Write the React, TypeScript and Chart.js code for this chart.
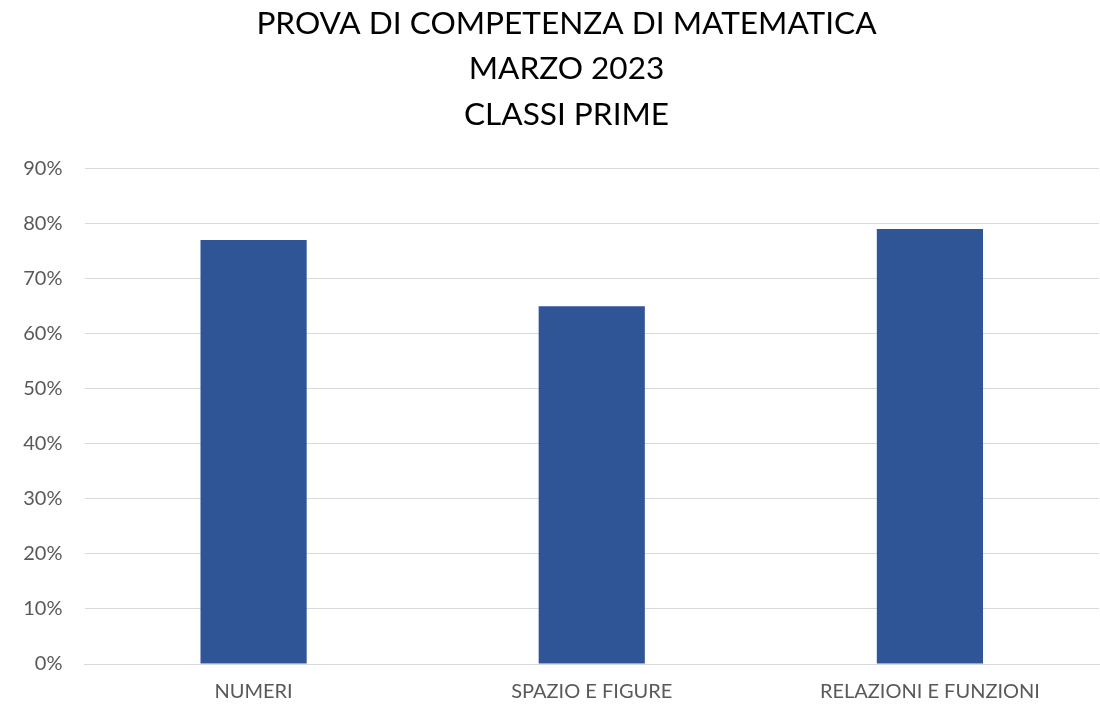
import React, { useEffect, useRef } from "react";
import { Chart, registerables } from "chart.js";

Chart.register(...registerables);

const titleLines = ["PROVA DI COMPETENZA DI MATEMATICA", "MARZO 2023", "CLASSI PRIME"];
const categories = ["NUMERI", "SPAZIO E FIGURE", "RELAZIONI E FUNZIONI"];
const values = [0.77, 0.65, 0.79];
const yMax = 0.9;
const yStep = 0.1;

export default function App() {
  const ref = useRef<HTMLCanvasElement | null>(null);
  useEffect(() => {
    document.body.style.margin = "0";
    const font = "Lato, 'Open Sans', 'Liberation Sans', sans-serif";
    const widenLabelArea = {
      id: "widenLabelArea",
      afterLayout(c: any) {
        if (c.scales.y) c.scales.y.left = 0;
      },
    };
    const chart = new Chart(ref.current!, {
      type: "bar",
      data: {
        labels: categories,
        datasets: [
          {
            data: values,
            backgroundColor: "#2F5597",
            barPercentage: 0.314,
            categoryPercentage: 1,
          },
        ],
      },
      plugins: [widenLabelArea],
      options: {
        animation: false,
        responsive: false,
        layout: { padding: { left: 34, right: 1, top: 1, bottom: 0 } },
        plugins: {
          legend: { display: false },
          tooltip: { enabled: false },
          title: {
            display: true,
            text: titleLines,
            color: "#000000",
            font: { family: font, size: 31.6, weight: "normal", lineHeight: 1.44 },
            padding: { top: 0, bottom: 31 },
          },
        },
        scales: {
          x: {
            afterFit: (s: any) => { s.height = 41; },
            grid: { display: false },
            border: { display: true, color: "#D9D9D9", width: 1 },
            ticks: { color: "#595959", font: { family: font, size: 20 }, padding: 8 },
          },
          y: {
            min: 0,
            max: yMax,
            afterFit: (s: any) => { s.width = 50.5; },
            border: { display: false },
            grid: { color: "#D9D9D9", lineWidth: 1, drawTicks: false },
            ticks: {
              stepSize: yStep,
              color: "#595959",
              font: { family: font, size: 20 },
              padding: 22,
              callback: (v: any) => Math.round(Number(v) * 100) + "%",
            },
          },
        },
      },
    });
    return () => chart.destroy();
  }, []);
  return <canvas ref={ref} width={1100} height={705} style={{ display: "block" }} />;
}
